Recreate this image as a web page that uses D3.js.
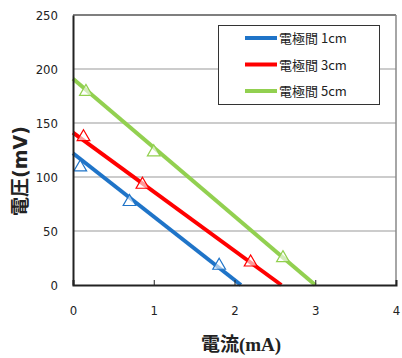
<!DOCTYPE html>
<html>
<head>
<meta charset="utf-8">
<script src="https://cdn.jsdelivr.net/npm/d3@7"></script>
<style>
  body { margin: 0; background: #fff; }
  text { font-family: "Noto Sans CJK JP", "DejaVu Sans", sans-serif; }
</style>
</head>
<body>
<svg id="chart" width="402" height="358"></svg>
<script>
// series: fitted line (intercept at 0 mA, x at 0 mV) and measured points
var seriesNames = ['電極間 1cm', '電極間 3cm', '電極間 5cm'];
var seriesColors = ['#1f74c8', '#ff0000', '#92d050'];
var lineStart = [[0, 122], [0, 141], [0, 191]];
var lineEnd = [[2.08, 0], [2.58, 0], [3.0, 0]];
var pts1 = [[0.09, 109], [0.70, 77], [1.81, 18]];
var pts3 = [[0.13, 137], [0.86, 93], [2.2, 21]];
var pts5 = [[0.16, 179], [1.0, 123], [2.6, 25]];
var xTicks = [0, 1, 2, 3, 4];
var yTicks = [0, 50, 100, 150, 200, 250];

var svg = d3.select('#chart');
var mLeft = 73, mRight = 396, mTop = 15, mBottom = 285;

var x = d3.scaleLinear().domain([0, 4]).range([mLeft, mRight]);
var y = d3.scaleLinear().domain([0, 250]).range([mBottom, mTop]);

// gridlines
svg.append('g').selectAll('line')
    .data(yTicks.filter(function(d) { return d > 0 && d < 250; }))
    .enter().append('line')
    .attr('x1', mLeft).attr('x2', mRight)
    .attr('y1', function(d) { return y(d); })
    .attr('y2', function(d) { return y(d); })
    .attr('stroke', '#999').attr('stroke-width', 1);

// frame: top/right lighter, left/bottom dark
svg.append('line').attr('x1', mLeft).attr('x2', mRight).attr('y1', mTop).attr('y2', mTop)
    .attr('stroke', '#555').attr('stroke-width', 1.5);
svg.append('line').attr('x1', mRight).attr('x2', mRight).attr('y1', mTop).attr('y2', mBottom)
    .attr('stroke', '#888').attr('stroke-width', 1.5);

// series lines
var allPts = [pts1, pts3, pts5];
seriesNames.forEach(function(name, i) {
    svg.append('line')
        .attr('x1', x(lineStart[i][0])).attr('y1', y(lineStart[i][1]))
        .attr('x2', x(lineEnd[i][0])).attr('y2', y(lineEnd[i][1]))
        .attr('stroke', seriesColors[i]).attr('stroke-width', 4);
});

// hollow triangle markers
var tri = d3.symbol().type(d3.symbolTriangle).size(70);
allPts.forEach(function(pts, i) {
    svg.append('g').selectAll('path')
        .data(pts)
        .enter().append('path')
        .attr('d', tri)
        .attr('transform', function(d) { return 'translate(' + x(d[0]) + ',' + y(d[1]) + ')'; })
        .attr('fill', '#fff').attr('fill-opacity', 0.6)
        .attr('stroke', seriesColors[i]).attr('stroke-width', 1.2);
});

// axes
var xAxis = svg.append('g').attr('transform', 'translate(0,' + mBottom + ')')
    .call(d3.axisBottom(x).tickValues(xTicks).tickFormat(d3.format('d')).tickSize(-5).tickPadding(21));
var yAxis = svg.append('g').attr('transform', 'translate(' + mLeft + ',0)')
    .call(d3.axisLeft(y).tickValues(yTicks).tickFormat(d3.format('d')).tickSize(0).tickPadding(15));
[xAxis, yAxis].forEach(function(a) {
    a.select('.domain').attr('stroke', '#222').attr('stroke-width', 2);
    a.selectAll('.tick line').attr('stroke', '#222');
    a.selectAll('text').attr('font-size', 13).attr('fill', '#222')
        .style('font-family', '"DejaVu Sans Condensed", "DejaVu Sans", sans-serif');
});
xAxis.selectAll('.tick line').filter(function(d) { return d === 0 || d === 4; }).remove();

// axis titles
var xt = svg.append('text').attr('x', 241).attr('y', 351)
    .attr('text-anchor', 'middle').attr('font-size', 19).attr('font-weight', 'bold')
    .attr('fill', '#222');
xt.append('tspan').text('電流');
xt.append('tspan').style('font-family', '"Liberation Serif", serif').text('(mA)');

var yt = svg.append('text').attr('transform', 'translate(27,171) rotate(-90)')
    .attr('text-anchor', 'middle').attr('font-size', 19).attr('font-weight', 'bold')
    .attr('fill', '#222');
yt.append('tspan').text('電圧');
yt.append('tspan').style('font-family', '"DejaVu Sans", sans-serif').text('(mV)');

// legend
var lg = svg.append('g');
lg.append('rect').attr('x', 218.5).attr('y', 25.5).attr('width', 161).attr('height', 79)
    .attr('fill', '#fff').attr('stroke', '#333').attr('stroke-width', 1);
seriesNames.forEach(function(name, i) {
    var ly = 38 + i * 26.5;
    lg.append('line').attr('x1', 245).attr('x2', 277).attr('y1', ly).attr('y2', ly)
        .attr('stroke', seriesColors[i]).attr('stroke-width', 4);
    lg.append('text').attr('x', 279).attr('y', ly + 5).attr('font-size', 13)
        .attr('fill', '#222').text(name);
});
</script>
</body>
</html>
